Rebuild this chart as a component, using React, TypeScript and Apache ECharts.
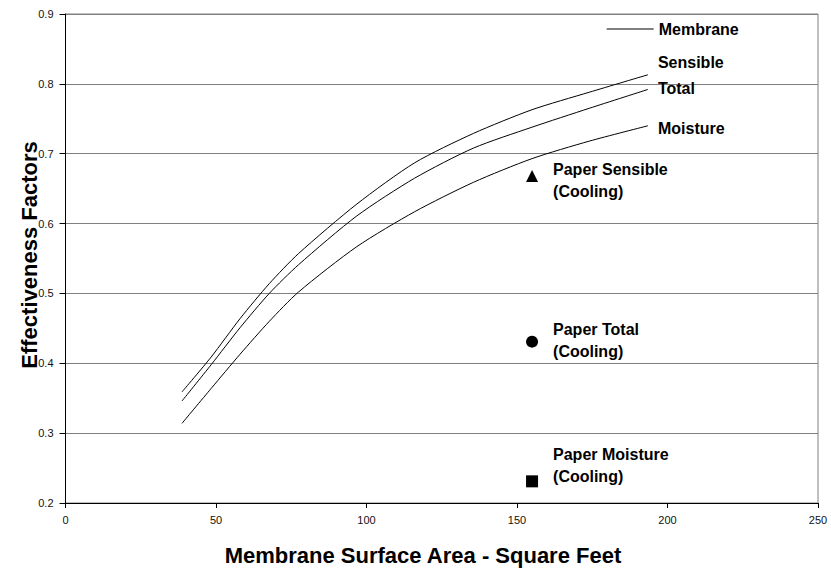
import React, { useEffect, useRef } from "react";
import * as echarts from "echarts";

const FONT = "'Liberation Sans', Arial, Helvetica, sans-serif";

const membraneArea = [38.7, 48.4, 58, 67.7, 77.4, 96.8, 116, 135.5, 155, 174, 193.5];
const sensible = [0.359, 0.409, 0.464, 0.514, 0.557, 0.628, 0.687, 0.729, 0.763, 0.788, 0.813];
const total = [0.346, 0.398, 0.451, 0.5, 0.541, 0.611, 0.665, 0.708, 0.738, 0.765, 0.792];
const moisture = [0.314, 0.364, 0.413, 0.46, 0.502, 0.567, 0.617, 0.659, 0.693, 0.718, 0.74];

const paperArea = 155;
const paperNames = ["Paper Sensible", "Paper Total", "Paper Moisture"];
const paperValues = [0.668, 0.431, 0.231];
const paperSymbols = ["triangle", "circle", "rect"];

const xTicks = { min: 0, max: 250, interval: 50 };
const yTicks = { min: 0.2, max: 0.9, interval: 0.1 };

const curveNames = ["Sensible", "Total", "Moisture"];
const curveValues = [sensible, total, moisture];

export default function App() {
  const ref = useRef<HTMLDivElement>(null);
  useEffect(() => {
    if (!ref.current) return;
    const chart = echarts.init(ref.current, null, { renderer: "svg" });
    const endOffsets = [[0, -12.3], [0, -1], [0, 2.3]];
    const paperOffsets = [[0, 4.5], [0, -1], [0, -15.5]];
    const lineSeries = curveNames.map((name, i) => ({
      type: "line",
      name,
      data: membraneArea.map((x, j) => [x, curveValues[i][j]]),
      showSymbol: false,
      symbol: "none",
      smooth: 0.25,
      lineStyle: { color: "#000", width: 1 },
      itemStyle: { color: "#000" },
      endLabel: {
        show: true,
        formatter: name,
        distance: 10,
        offset: endOffsets[i],
        color: "#000",
        fontFamily: FONT,
        fontSize: 16,
        fontWeight: "bold",
      },
      silent: true,
      z: 3,
    }));
    const option = {
      animation: false,
      backgroundColor: "#fff",
      grid: {
        left: 65.5,
        right: 13,
        top: 14,
        bottom: 65,
        show: true,
        borderColor: "#808080",
        borderWidth: 1,
      },
      legend: {
        data: [{ name: "Membrane", icon: "rect", itemStyle: { color: "#000" } }],
        left: 606.7,
        top: 21,
        padding: 0,
        itemWidth: 47,
        itemHeight: 1,
        textStyle: { fontFamily: FONT, fontSize: 16, fontWeight: "bold", color: "#000" },
      },
      xAxis: {
        type: "value",
        min: xTicks.min,
        max: xTicks.max,
        interval: xTicks.interval,
        axisLine: { show: true, lineStyle: { color: "#000", width: 1 } },
        axisTick: { show: true, inside: false, length: 5, lineStyle: { color: "#000" } },
        axisLabel: { color: "#111", fontFamily: FONT, fontSize: 11, margin: 11 },
        splitLine: { show: false },
      },
      yAxis: {
        type: "value",
        min: yTicks.min,
        max: yTicks.max,
        interval: yTicks.interval,
        axisLine: { show: true, lineStyle: { color: "#000", width: 1 } },
        axisTick: { show: true, inside: false, length: 6, lineStyle: { color: "#000" } },
        axisLabel: {
          color: "#111",
          fontFamily: FONT,
          fontSize: 11,
          margin: 12,
          formatter: (v: number) => v.toFixed(1),
        },
        splitLine: { show: true, lineStyle: { color: "#808080", width: 1 } },
      },
      series: [
        ...lineSeries,
        {
          type: "line",
          name: "Membrane",
          data: [],
          symbol: "none",
          lineStyle: { color: "#000", width: 1 },
          itemStyle: { color: "#000" },
        },
        {
          type: "scatter",
          name: "Paper",
          data: paperNames.map((n, i) => ({
            value: [paperArea, paperValues[i]],
            symbol: paperSymbols[i],
            label: {
              show: true,
              position: "right",
              distance: 15,
              offset: paperOffsets[i],
              formatter: n + "\n(Cooling)",
              color: "#000",
              fontFamily: FONT,
              fontSize: 16,
              fontWeight: "bold",
              lineHeight: 22,
              align: "left",
            },
          })),
          symbolSize: 12,
          itemStyle: { color: "#000", opacity: 1 },
          silent: true,
          z: 4,
        },
      ],
      graphic: [
        {
          type: "text",
          x: 423,
          y: 555.6,
          style: {
            text: "Membrane Surface Area - Square Feet",
            fontFamily: FONT,
            fontSize: 22,
            fontWeight: "bold",
            fill: "#000",
            textAlign: "center",
            textVerticalAlign: "middle",
          },
        },
        {
          type: "text",
          x: 29,
          y: 255,
          rotation: Math.PI / 2,
          style: {
            text: "Effectiveness Factors",
            fontFamily: FONT,
            fontSize: 22,
            fontWeight: "bold",
            fill: "#000",
            textAlign: "center",
            textVerticalAlign: "middle",
          },
        },
      ],
    };
    chart.setOption(option as any);
    return () => chart.dispose();
  }, []);
  return (
    <div
      ref={ref}
      style={{ position: "fixed", left: 0, top: 0, width: 831, height: 568, background: "#fff" }}
    />
  );
}
